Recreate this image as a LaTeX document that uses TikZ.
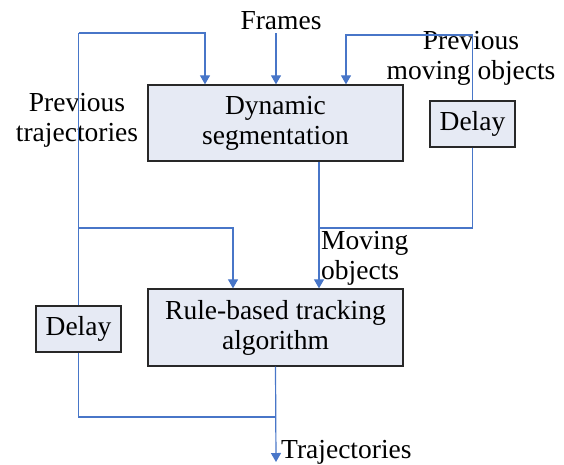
\documentclass[tikz,border=0pt]{standalone}
\usepackage{fontspec}
\setmainfont{Liberation Serif}
\usetikzlibrary{arrows.meta}

\definecolor{flowblue}{RGB}{72,118,200}
\definecolor{boxfill}{RGB}{230,234,244}
\definecolor{boxline}{RGB}{40,40,40}

\begin{document}
\begin{tikzpicture}[x=1pt, y=-1pt,
		block/.style={draw=boxline, fill=boxfill, line width=1.3pt, align=center, inner sep=0pt},
		flow/.style={draw=flowblue, line width=1.2pt},
		arr/.style={flow, -{Triangle[width=10pt,length=9pt]}},
		lbl/.style={inner sep=0pt, align=left},
		font=\fontsize{27.5}{30}\selectfont]
		
		\useasboundingbox (0,0) rectangle (564,464);
		
		\node[block, minimum width=255, minimum height=76] (seg) at (275.5,123) {Dynamic\\segmentation};
		\node[block, minimum width=255, minimum height=77] (track) at (275.5,327.5) {Rule-based tracking\\algorithm};
		\node[block, minimum width=85, minimum height=46] (delayR) at (472.5,124) {Delay};
		\node[block, minimum width=85, minimum height=46] (delayL) at (78.5,329) {Delay};
		
		\node[lbl] (frames) at (281,21) {Frames};
		\node[lbl, align=center] (prevtraj) at (77,120) {Previous\\trajectories};
		\node[lbl, align=center] (prevobj) at (471,58) {Previous\\moving objects};
		\node[lbl, anchor=west] (movobj) at (321,258) {Moving\\objects};
		\node[lbl, anchor=west] (traj) at (281,452) {Trajectories};
		
		\coordinate (fin) at (276,33);
		\coordinate (ltop) at (78.5,33);
		\coordinate (rtop) at (472.5,35);
		\coordinate (lmid) at (78.5,228);
		\coordinate (rmid) at (472.5,228);
		\coordinate (lbot) at (78.5,417);
		\coordinate (out) at (276,462);
		\coordinate (segout) at ([xshift=43.5pt]seg.south);
		\coordinate (trackin) at ([xshift=43.5pt]track.north);
		
		% frames into the segmentation
		\draw[arr] (fin) -- (fin |- seg.north);
		
		% previous trajectories loop
		\draw[flow] (delayL.north) -- (ltop);
		\draw[arr] (ltop) -| ([xshift=-70.5pt]seg.north);
		\draw[arr] (lmid) -| ([xshift=-42.5pt]track.north);
		
		% previous moving objects loop
		\draw[flow] (delayR.north) -- (rtop);
		\draw[arr] (rtop) -| ([xshift=70.5pt]seg.north);
		\draw[flow] (delayR.south) -- (rmid) -- (rmid -| segout);
		
		% moving objects into the tracker
		\draw[arr] (segout) -- (trackin);
		
		% trajectories out and back through the delay
		\draw[arr] (track.south) -- (out);
		\draw[flow] (delayL.south) -- (lbot) -- (lbot -| track.south);
		
\end{tikzpicture}
\end{document}
